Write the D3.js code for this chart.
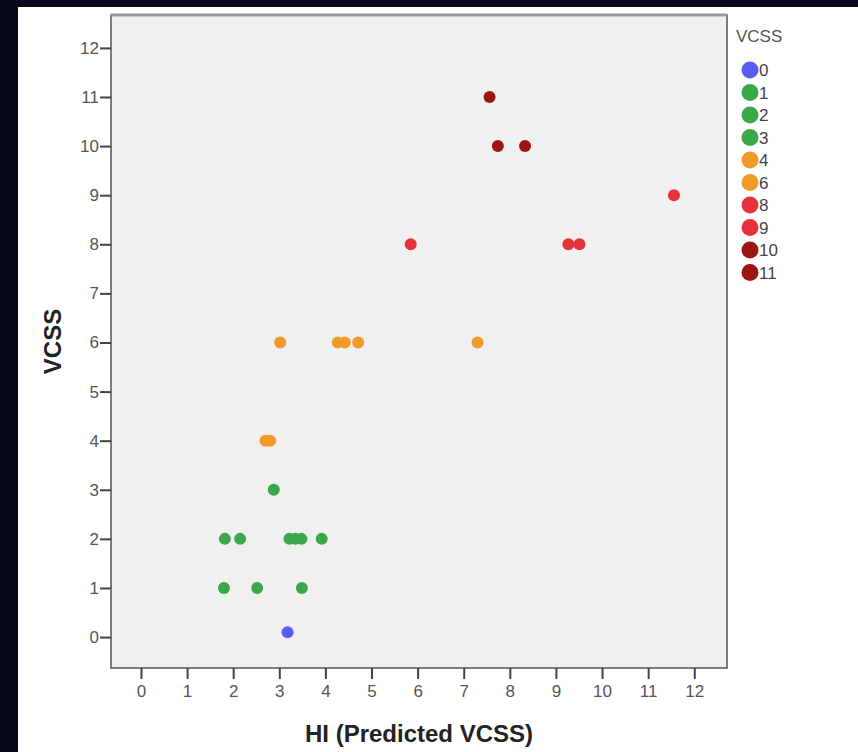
<!DOCTYPE html>
<html>
<head>
<meta charset="utf-8">
<script src="https://cdn.jsdelivr.net/npm/d3@7"></script>
<style>
  html, body { margin: 0; padding: 0; background: #08081c; }
  svg { display: block; }
</style>
</head>
<body>
<div id="chart"></div>
<script>
// data
var predicted = [3.18, 1.80, 2.52, 3.49, 1.82, 2.15, 3.22, 3.35, 3.48, 3.92, 2.88,
                 2.70, 2.80, 3.02, 4.27, 4.42, 4.71, 7.30, 5.85, 9.27, 9.51, 11.56,
                 7.74, 8.33, 7.56];
var observed  = [0.1, 1, 1, 1, 2, 2, 2, 2, 2, 2, 3,
                 4, 4, 6, 6, 6, 6, 6, 8, 8, 8, 9,
                 10, 10, 11];
var vcssLevels = ["0", "1", "2", "3", "4", "6", "8", "9", "10", "11"];
var levelColors = ["#5b5cf0", "#3aa84a", "#3aa84a", "#3aa84a", "#f09a2a", "#f09a2a",
                   "#e5333b", "#e5333b", "#9b1515", "#9b1515"];
var tickValues = [0, 1, 2, 3, 4, 5, 6, 7, 8, 9, 10, 11, 12];

var width = 858, height = 752;
var plot = { left: 111, top: 15, right: 727, bottom: 668 };
var font = "Liberation Sans, Arial, sans-serif";

var svg = d3.select("#chart")
    .append("svg")
    .attr("width", width)
    .attr("height", height);

// white card inside the dark frame
svg.append("rect")
    .attr("x", 18).attr("y", 7)
    .attr("width", width - 18).attr("height", height - 7)
    .attr("fill", "#ffffff");

var x = d3.scaleLinear().domain([-0.65, 12.71]).range([plot.left, plot.right]);
var y = d3.scaleLinear().domain([-0.63, 12.67]).range([plot.bottom, plot.top]);

var color = d3.scaleOrdinal().domain(vcssLevels).range(levelColors);

// plot background
svg.append("rect")
    .attr("x", plot.left).attr("y", plot.top)
    .attr("width", plot.right - plot.left)
    .attr("height", plot.bottom - plot.top)
    .attr("fill", "#f0f0f0")
    .attr("stroke", "#555")
    .attr("stroke-width", 1.5);

svg.append("line")
    .attr("x1", plot.left).attr("x2", plot.right)
    .attr("y1", plot.top).attr("y2", plot.top)
    .attr("stroke", "#999")
    .attr("stroke-width", 3);

// axes
var xAxis = svg.append("g")
    .attr("transform", "translate(0," + plot.bottom + ")")
    .call(d3.axisBottom(x).tickValues(tickValues).tickSize(11).tickPadding(6));
var yAxis = svg.append("g")
    .attr("transform", "translate(" + plot.left + ",0)")
    .call(d3.axisLeft(y).tickValues(tickValues).tickSize(11).tickPadding(1));

[xAxis, yAxis].forEach(function (a) {
    a.select(".domain").remove();
    a.selectAll(".tick line").attr("stroke", "#444").attr("stroke-width", 2);
    a.selectAll(".tick text")
        .style("font-family", font)
        .style("font-size", "17px")
        .style("fill", "#555");
});

// points
svg.append("g")
    .selectAll("circle")
    .data(predicted.map(function (p, i) { return { p: p, o: observed[i] }; }))
    .enter()
    .append("circle")
    .attr("cx", function (d) { return x(d.p); })
    .attr("cy", function (d) { return y(d.o); })
    .attr("r", 6)
    .attr("fill", function (d) { return color(String(Math.round(d.o))); });

// axis titles
svg.append("text")
    .attr("x", (plot.left + plot.right) / 2)
    .attr("y", 742)
    .attr("text-anchor", "middle")
    .style("font-family", font)
    .style("font-size", "24px")
    .style("font-weight", "bold")
    .style("fill", "#222")
    .text("HI (Predicted VCSS)");

svg.append("text")
    .attr("transform", "translate(61," + (plot.top + plot.bottom) / 2 + ") rotate(-90)")
    .attr("text-anchor", "middle")
    .style("font-family", font)
    .style("font-size", "24px")
    .style("font-weight", "bold")
    .style("fill", "#222")
    .text("VCSS");

// legend
svg.append("text")
    .attr("x", 736)
    .attr("y", 42)
    .style("font-family", font)
    .style("font-size", "17px")
    .style("fill", "#555")
    .text("VCSS");

var legend = svg.selectAll(".legend")
    .data(vcssLevels)
    .enter()
    .append("g")
    .attr("class", "legend")
    .attr("transform", function (d, i) {
        return "translate(750," + (70 + i * 22.5) + ")";
    });

legend.append("circle")
    .attr("r", 8.5)
    .attr("fill", function (d) { return color(d); });

legend.append("text")
    .attr("x", 9)
    .attr("y", 6)
    .style("font-family", font)
    .style("font-size", "17px")
    .style("fill", "#444")
    .text(function (d) { return d; });
</script>
</body>
</html>
